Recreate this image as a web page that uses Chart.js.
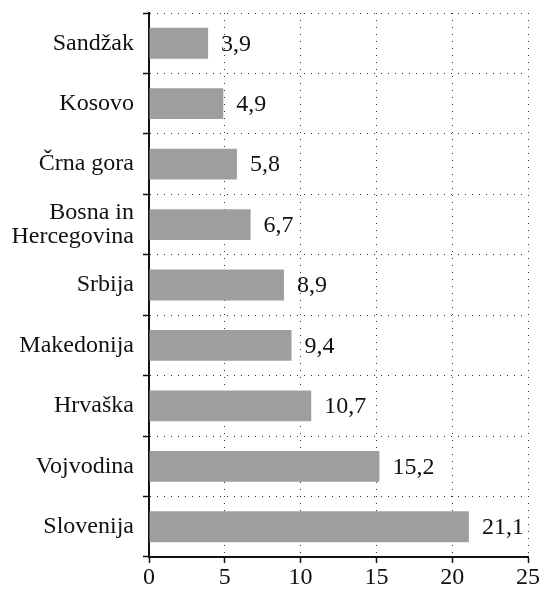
<!DOCTYPE html>
<html>
<head>
<meta charset="utf-8">
<script src="https://cdn.jsdelivr.net/npm/chart.js@4/dist/chart.umd.min.js"></script>
<style>
  html, body { margin: 0; padding: 0; background: #fff; }
  #wrap { width: 541px; height: 589px; }
</style>
</head>
<body>
<div id="wrap"><canvas id="regionChart" width="541" height="589"></canvas></div>
<script>
// Regions (top to bottom) and their values
const regions = ['Sandžak', 'Kosovo', 'Črna gora', ['Bosna in', 'Hercegovina'], 'Srbija', 'Makedonija', 'Hrvaška', 'Vojvodina', 'Slovenija'];
const values = [3.9, 4.9, 5.8, 6.7, 8.9, 9.4, 10.7, 15.2, 21.1];
const xTicks = [0, 5, 10, 15, 20, 25];

const FONT = "'Liberation Serif', 'Times New Roman', serif";

// Draw the value (with decimal comma) to the right of each bar
const valueLabels = {
    id: 'valueLabels',
    afterDatasetsDraw(chart) {
        const ctx = chart.ctx;
        const meta = chart.getDatasetMeta(0);
        ctx.save();
        ctx.font = '24px ' + FONT;
        ctx.fillStyle = '#111';
        ctx.textAlign = 'left';
        ctx.textBaseline = 'middle';
        meta.data.forEach((bar, i) => {
            ctx.fillText(values[i].toFixed(1).replace('.', ','), bar.x + 13, bar.y + 1);
        });
        ctx.restore();
    }
};

const ctx = document.getElementById('regionChart').getContext('2d');

new Chart(ctx, {
    type: 'bar',
    data: {
        labels: regions,
        datasets: [{
            data: values,
            backgroundColor: '#9e9e9e',
            borderWidth: 0,
            categoryPercentage: 1,
            barPercentage: 0.51
        }]
    },
    options: {
        indexAxis: 'y',
        responsive: false,
        animation: false,
        layout: { padding: { top: 13, right: 13, left: 0, bottom: 0 } },
        scales: {
            x: {
                min: 0,
                max: 25,
                afterBuildTicks: (scale) => { scale.ticks = xTicks.map(v => ({ value: v })); },
                afterFit: (scale) => { scale.height = 32; scale.paddingLeft = 0; scale.paddingRight = 0; },
                ticks: { color: '#111', font: { family: FONT, size: 24 }, padding: 0, maxRotation: 0 },
                grid: { color: '#333', lineWidth: 1, tickLength: 6, tickColor: '#111', tickBorderDash: [], tickWidth: 1.5 },
                border: { display: true, color: '#111', width: 2, dash: [1, 6] }
            },
            y: {
                afterFit: (scale) => { scale.width = 149; scale.paddingTop = 0; scale.paddingBottom = 0; },
                ticks: { color: '#111', font: { family: FONT, size: 24, lineHeight: 1.0 }, padding: 9 },
                grid: { offset: true, color: '#333', lineWidth: 1, tickLength: 6, tickColor: '#111', tickBorderDash: [], tickWidth: 1.5 },
                border: { display: true, color: '#111', width: 2, dash: [1, 6] }
            }
        },
        plugins: {
            legend: { display: false },
            tooltip: { enabled: false }
        }
    },
    plugins: [valueLabels]
});
</script>
</body>
</html>
